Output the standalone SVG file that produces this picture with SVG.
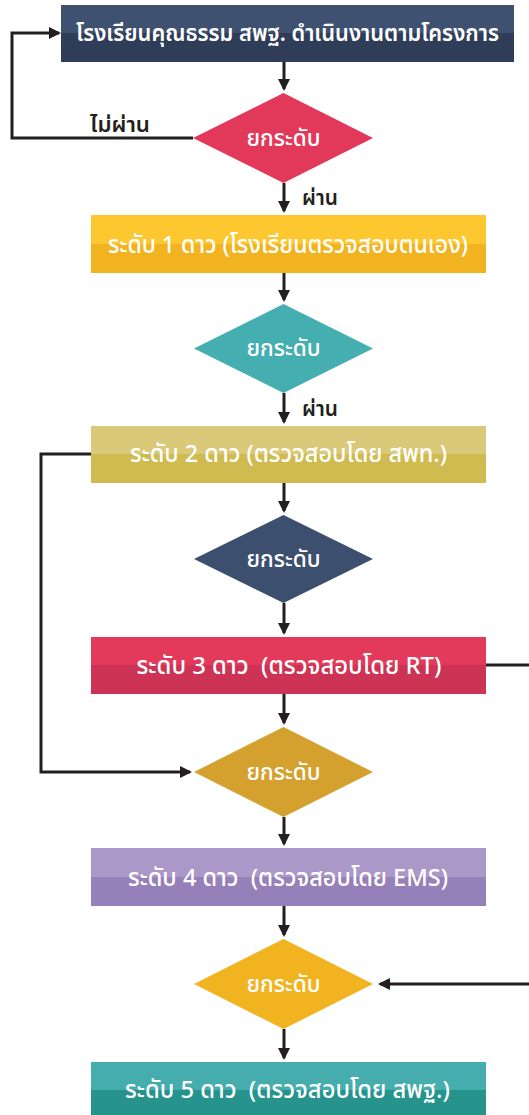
<svg xmlns="http://www.w3.org/2000/svg" width="529" height="1115" viewBox="0 0 529 1115" xml:space="preserve">
<style>
.t{font-family:"Noto Sans Thai","Noto Sans","DejaVu Sans",sans-serif;fill:#fff;text-anchor:middle;font-size:24px;font-weight:500;white-space:pre}
.b{font-weight:600;font-size:23px}
.d{font-size:23px}
.lbl{font-family:"Noto Sans Thai","Noto Sans","DejaVu Sans",sans-serif;fill:#231f20;font-size:22px;font-weight:600}
.c{fill:none;stroke:#231f20;stroke-width:3}
</style>
<defs>
<marker id="ah" markerUnits="userSpaceOnUse" viewBox="0 0 12 12" markerWidth="12" markerHeight="12" refX="10" refY="6" orient="auto">
<path d="M0,0 L12,6 L0,12 z" fill="#231f20"/>
</marker>
</defs>
<rect width="529" height="1115" fill="#fff"/>
<g id="connectors">
<path class="c" marker-end="url(#ah)" d="M284,62 V89"/>
<path class="c" marker-end="url(#ah)" d="M193,138 H12 V33 H59"/>
<path class="c" marker-end="url(#ah)" d="M284,183 V211"/>
<path class="c" marker-end="url(#ah)" d="M284,273 V300"/>
<path class="c" marker-end="url(#ah)" d="M284,393 V422"/>
<path class="c" marker-end="url(#ah)" d="M91,454 H41 V772 H190"/>
<path class="c" marker-end="url(#ah)" d="M284,483 V511"/>
<path class="c" marker-end="url(#ah)" d="M284,603 V633"/>
<path class="c" marker-end="url(#ah)" d="M486,665 H540 V984 H380"/>
<path class="c" marker-end="url(#ah)" d="M284,694 V723"/>
<path class="c" marker-end="url(#ah)" d="M284,817 V844"/>
<path class="c" marker-end="url(#ah)" d="M284,906 V935"/>
<path class="c" marker-end="url(#ah)" d="M284,1029 V1058"/>
<text class="lbl" x="90" y="132" textLength="60" lengthAdjust="spacingAndGlyphs">ไม่ผ่าน</text>
<text class="lbl" x="302" y="205" textLength="36" lengthAdjust="spacingAndGlyphs">ผ่าน</text>
<text class="lbl" x="302" y="416" textLength="36" lengthAdjust="spacingAndGlyphs">ผ่าน</text>
</g>
<g id="start">
<rect x="61" y="5" width="453" height="57" fill="#2f3d58"/>
<rect x="61" y="5" width="453" height="28" fill="#3e5170"/>
<text class="t b" x="287.5" y="41" textLength="423" lengthAdjust="spacingAndGlyphs">โรงเรียนคุณธรรม สพฐ. ดำเนินงานตามโครงการ</text>
</g>
<g id="d1">
<polygon points="283.5,93 373,138 283.5,183 193,138" fill="#e2395a"/>
<text class="t d" x="283.5" y="146" textLength="74" lengthAdjust="spacingAndGlyphs">ยกระดับ</text>
</g>
<g id="level1">
<rect x="91" y="215" width="395" height="58" fill="#f2b320"/>
<rect x="91" y="215" width="395" height="29" fill="#fcc72f"/>
<text class="t" x="288" y="253" textLength="360" lengthAdjust="spacingAndGlyphs">ระดับ 1 ดาว (โรงเรียนตรวจสอบตนเอง)</text>
</g>
<g id="d2">
<polygon points="283.5,304 373,348.5 283.5,393 194,348.5" fill="#44aeb0"/>
<text class="t d" x="283.5" y="356" textLength="74" lengthAdjust="spacingAndGlyphs">ยกระดับ</text>
</g>
<g id="level2">
<rect x="91" y="426" width="395" height="57" fill="#cfbb50"/>
<rect x="91" y="426" width="395" height="28" fill="#d9c978"/>
<text class="t" x="288.5" y="462" textLength="317" lengthAdjust="spacingAndGlyphs">ระดับ 2 ดาว (ตรวจสอบโดย สพท.)</text>
</g>
<g id="d3">
<polygon points="283.5,515 373,559 283.5,603 194,559" fill="#3c4f6e"/>
<text class="t d" x="283.5" y="567" textLength="74" lengthAdjust="spacingAndGlyphs">ยกระดับ</text>
</g>
<g id="level3">
<rect x="91" y="637" width="395" height="57" fill="#cc3354"/>
<rect x="91" y="637" width="395" height="28" fill="#e33a5b"/>
<text class="t" x="289" y="674" textLength="305" lengthAdjust="spacingAndGlyphs">ระดับ 3 ดาว  (ตรวจสอบโดย RT)</text>
</g>
<g id="d4">
<polygon points="283.5,727 373,772 283.5,817 194,772" fill="#d4a02e"/>
<text class="t d" x="283.5" y="780" textLength="74" lengthAdjust="spacingAndGlyphs">ยกระดับ</text>
</g>
<g id="level4">
<rect x="91" y="848" width="395" height="58" fill="#9680ba"/>
<rect x="91" y="848" width="395" height="29" fill="#ab98c8"/>
<text class="t" x="288" y="886" textLength="320" lengthAdjust="spacingAndGlyphs">ระดับ 4 ดาว  (ตรวจสอบโดย EMS)</text>
</g>
<g id="d5">
<polygon points="283.5,939 373,984 283.5,1029 194,984" fill="#f2b320"/>
<text class="t d" x="283.5" y="992" textLength="74" lengthAdjust="spacingAndGlyphs">ยกระดับ</text>
</g>
<g id="level5">
<rect x="91" y="1062" width="395" height="53" fill="#26948c"/>
<rect x="91" y="1062" width="395" height="28" fill="#45adad"/>
<text class="t" x="287.5" y="1098" textLength="325" lengthAdjust="spacingAndGlyphs">ระดับ 5 ดาว  (ตรวจสอบโดย สพฐ.)</text>
</g>
</svg>
